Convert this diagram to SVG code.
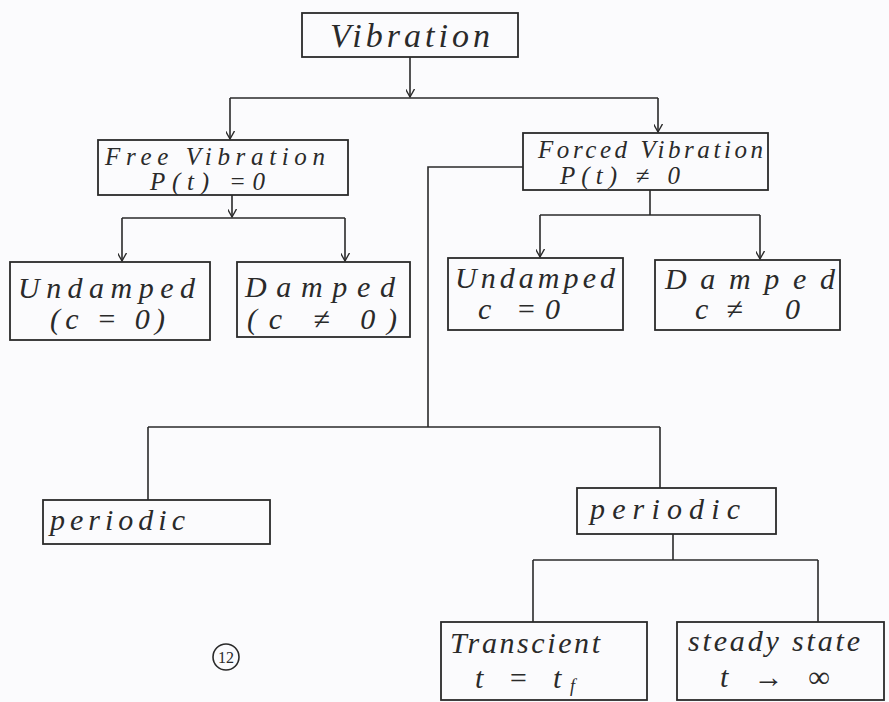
<svg xmlns="http://www.w3.org/2000/svg" width="889" height="702" viewBox="0 0 889 702">
<defs>
<style>
.box{fill:none;stroke:#2a2a2a;stroke-width:1.8}
.ln{fill:none;stroke:#2a2a2a;stroke-width:1.6}
.t{font-family:"Liberation Serif",serif;font-style:italic;fill:#2a2a2a;font-size:30px}
.s{font-size:25px}
.v{font-size:34px}
.n{font-size:16px;font-style:normal}
</style>
<marker id="ah" viewBox="0 0 10 10" refX="9" refY="5" markerWidth="9" markerHeight="9" orient="auto" markerUnits="userSpaceOnUse">
<path d="M0,0 L9,5 L0,10" fill="none" stroke="#2a2a2a" stroke-width="1.5"/>
</marker>
</defs>
<rect width="889" height="702" fill="#fbfbfd"/>
<g id="connectors">
<path class="ln" d="M410,57 V97" marker-end="url(#ah)"/>
<path class="ln" d="M230,98 H658"/>
<path class="ln" d="M230,98 V139" marker-end="url(#ah)"/>
<path class="ln" d="M658,98 V132" marker-end="url(#ah)"/>
<path class="ln" d="M232,195 V217" marker-end="url(#ah)"/>
<path class="ln" d="M122,218 H345"/>
<path class="ln" d="M122,218 V261" marker-end="url(#ah)"/>
<path class="ln" d="M345,218 V261" marker-end="url(#ah)"/>
<path class="ln" d="M650,190 V215"/>
<path class="ln" d="M540,215 H760"/>
<path class="ln" d="M540,215 V257" marker-end="url(#ah)"/>
<path class="ln" d="M760,215 V259" marker-end="url(#ah)"/>
<path class="ln" d="M523,167 H428 V427"/>
<path class="ln" d="M148,427 H660"/>
<path class="ln" d="M148,427 V500"/>
<path class="ln" d="M660,427 V488"/>
<path class="ln" d="M673,534 V560"/>
<path class="ln" d="M533,560 H818"/>
<path class="ln" d="M533,560 V622"/>
<path class="ln" d="M818,560 V622"/>
</g>
<g id="vibration">
<rect class="box" x="302" y="13" width="216" height="44"/>
<text class="t v" x="330" y="47" textLength="160" lengthAdjust="spacing">Vibration</text>
</g>
<g id="free">
<rect class="box" x="98" y="140" width="250" height="55"/>
<text class="t s" x="105" y="165" textLength="220" lengthAdjust="spacing">Free Vibration</text>
<text class="t s" x="150" y="190" textLength="115" lengthAdjust="spacing">P(t) =0</text>
</g>
<g id="forced">
<rect class="box" x="523" y="133" width="245" height="57"/>
<text class="t s" x="538" y="158" textLength="225" lengthAdjust="spacing">Forced Vibration</text>
<text class="t s" x="560" y="184" textLength="120" lengthAdjust="spacing">P(t) ≠ 0</text>
</g>
<g id="undamped1">
<rect class="box" x="10" y="262" width="200" height="78"/>
<text class="t" x="18" y="298" textLength="177" lengthAdjust="spacing">Undamped</text>
<text class="t" x="50" y="329" textLength="115" lengthAdjust="spacing">(c = 0)</text>
</g>
<g id="damped1">
<rect class="box" x="237" y="262" width="173" height="75"/>
<text class="t" x="245" y="297" textLength="150" lengthAdjust="spacing">Damped</text>
<text class="t" x="247" y="329" textLength="150" lengthAdjust="spacing">(c ≠ 0)</text>
</g>
<g id="undamped2">
<rect class="box" x="448" y="258" width="175" height="72"/>
<text class="t" x="455" y="288" textLength="160" lengthAdjust="spacing">Undamped</text>
<text class="t" x="478" y="319" textLength="82" lengthAdjust="spacing">c =0</text>
</g>
<g id="damped2">
<rect class="box" x="655" y="260" width="185" height="70"/>
<text class="t" x="665" y="289" textLength="170" lengthAdjust="spacing">Damped</text>
<text class="t" x="695" y="319" textLength="105" lengthAdjust="spacing">c≠ 0</text>
</g>
<g id="periodic1">
<rect class="box" x="43" y="500" width="227" height="44"/>
<text class="t" x="50" y="530" textLength="135" lengthAdjust="spacing">periodic</text>
</g>
<g id="periodic2">
<rect class="box" x="577" y="488" width="199" height="46"/>
<text class="t" x="590" y="519" textLength="150" lengthAdjust="spacing">periodic</text>
</g>
<g id="transcient">
<rect class="box" x="441" y="622" width="206" height="78"/>
<text class="t" x="450" y="653" textLength="150" lengthAdjust="spacing">Transcient</text>
<text class="t" x="475" y="688" textLength="100" lengthAdjust="spacing">t = t<tspan style="font-size:18px" dy="4">f</tspan></text>
</g>
<g id="steady">
<rect class="box" x="677" y="622" width="207" height="78"/>
<text class="t" x="688" y="651" textLength="172" lengthAdjust="spacing">steady state</text>
<text class="t" x="720" y="687" textLength="110" lengthAdjust="spacing">t → ∞</text>
</g>
<g id="pagenum">
<circle cx="226" cy="657" r="13" class="ln"/>
<text class="t n" x="226" y="663" text-anchor="middle">12</text>
</g>
</svg>
